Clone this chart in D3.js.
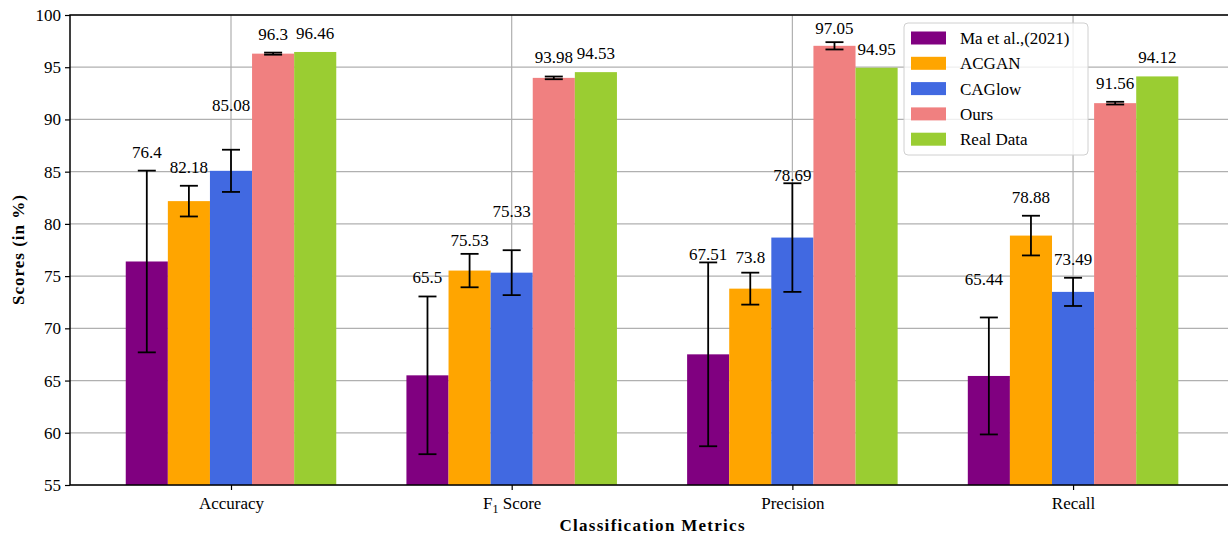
<!DOCTYPE html>
<html>
<head>
<meta charset="utf-8">
<script src="https://cdn.jsdelivr.net/npm/d3@7"></script>
<style>
  body { margin: 0; background: #fff; }
  text { font-family: "Liberation Serif", "DejaVu Serif", serif; fill: #000; }
</style>
</head>
<body>
<div id="chart"></div>
<script>
const metrics = ["Accuracy", "F1 Score", "Precision", "Recall"];
const methods = ["Ma et al.,(2021)", "ACGAN", "CAGlow", "Ours", "Real Data"];
const colors = ["#800080", "#ffa500", "#4169e1", "#f08080", "#9acd32"];

// rows follow methods, columns follow metrics
const maScores = [76.4, 65.5, 67.51, 65.44];
const acganScores = [82.18, 75.53, 73.8, 78.88];
const caglowScores = [85.08, 75.33, 78.69, 73.49];
const oursScores = [96.3, 93.98, 97.05, 91.56];
const realScores = [96.46, 94.53, 94.95, 94.12];

const maErr = [8.7, 7.55, 8.8, 5.6];
const acganErr = [1.47, 1.6, 1.53, 1.9];
const caglowErr = [2.02, 2.15, 5.2, 1.35];
const oursErr = [0.1, 0.13, 0.35, 0.13];
const realErr = [0, 0, 0, 0];

const yTicks = [55, 60, 65, 70, 75, 80, 85, 90, 95, 100];

const scores = [maScores, acganScores, caglowScores, oursScores, realScores];
const errs = [maErr, acganErr, caglowErr, oursErr, realErr];

// labels were shuffled to avoid overlaps in the original, replay that here (pixels)
const LABEL_GAP = 19;
const labelNudge = {
  "0-2": [0, -26], "1-1": [0, 5], "1-2": [0, -20],
  "2-0": [0, 11], "2-1": [0, 3], "2-2": [0, 11], "2-3": [0, 5],
  "3-0": [-5, -19]
};

const WIDTH = 1228, HEIGHT = 535;
const margin = { left: 70, top: 15, bottom: 50 };
const BAR_W = 0.15;
const FONT = "17px";

const svg = d3.select("#chart").append("svg")
  .attr("width", WIDTH).attr("height", HEIGHT);

const x = d3.scaleLinear().domain([-0.5736, 3.5736]).range([margin.left, margin.left + 4.147 * 280.7]);
const y = d3.scaleLinear().domain([55, 100]).range([HEIGHT - margin.bottom, margin.top]);

const plotLeft = margin.left, plotRight = x.range()[1];
const plotTop = margin.top, plotBottom = HEIGHT - margin.bottom;

// grid
const grid = svg.append("g");
grid.selectAll(".hgrid").data(yTicks).enter().append("line")
  .attr("x1", plotLeft).attr("x2", plotRight)
  .attr("y1", d => y(d)).attr("y2", d => y(d))
  .attr("stroke", "#b0b0b0").attr("stroke-width", 1.2);
grid.selectAll(".vgrid").data(metrics).enter().append("line")
  .attr("x1", (d, i) => x(i)).attr("x2", (d, i) => x(i))
  .attr("y1", plotTop).attr("y2", plotBottom)
  .attr("stroke", "#b0b0b0").attr("stroke-width", 1.2);

// bars
const cells = [];
methods.forEach(function(m, j) {
  metrics.forEach(function(k, i) {
    cells.push({ i: i, j: j, v: scores[j][i], e: errs[j][i] });
  });
});
const cx = d => x(d.i + (d.j - 2) * BAR_W);

svg.append("g").selectAll("rect").data(cells).enter().append("rect")
  .attr("x", d => x(d.i + (d.j - 2.5) * BAR_W))
  .attr("width", d => x(d.i + (d.j - 1.5) * BAR_W) - x(d.i + (d.j - 2.5) * BAR_W))
  .attr("y", d => y(d.v))
  .attr("height", d => plotBottom - y(d.v))
  .attr("fill", d => colors[d.j]);

// error bars
const eb = svg.append("g").selectAll("g").data(cells.filter(d => d.e > 0)).enter().append("g")
  .attr("stroke", "#000").attr("stroke-width", 1.8);
eb.append("line").attr("x1", cx).attr("x2", cx)
  .attr("y1", d => y(d.v + d.e)).attr("y2", d => y(d.v - d.e));
eb.append("line").attr("x1", d => cx(d) - 9).attr("x2", d => cx(d) + 9)
  .attr("y1", d => y(d.v + d.e)).attr("y2", d => y(d.v + d.e));
eb.append("line").attr("x1", d => cx(d) - 9).attr("x2", d => cx(d) + 9)
  .attr("y1", d => y(d.v - d.e)).attr("y2", d => y(d.v - d.e));

// value labels
svg.append("g").selectAll("text").data(cells).enter().append("text")
  .attr("x", d => cx(d) + (labelNudge[d.i + "-" + d.j] || [0, 0])[0])
  .attr("y", d => y(d.v + d.e) - LABEL_GAP + (labelNudge[d.i + "-" + d.j] || [0, 0])[1])
  .attr("dy", "0.35em")
  .attr("text-anchor", "middle")
  .style("font-size", FONT)
  .text(d => d.v);

// axes
const yAxis = svg.append("g").attr("transform", "translate(" + plotLeft + ",0)")
  .call(d3.axisLeft(y).tickValues(yTicks).tickSize(5).tickPadding(4));
const xAxis = svg.append("g").attr("transform", "translate(0," + plotBottom + ")")
  .call(d3.axisBottom(x).tickValues([0, 1, 2, 3]).tickSize(5).tickPadding(4).tickFormat(() => ""));
[yAxis, xAxis].forEach(function(a) {
  a.select(".domain").remove();
  a.selectAll("line").attr("stroke", "#000").attr("stroke-width", 1.2);
  a.selectAll("text").style("font-size", FONT).attr("font-family", null);
});
xAxis.selectAll(".tick").append("text")
  .attr("y", 24).attr("text-anchor", "middle").style("font-size", FONT)
  .each(function(d) {
    const t = d3.select(this);
    if (metrics[d] === "F1 Score") {
      t.append("tspan").text("F");
      t.append("tspan").text("1").attr("dy", 4).style("font-size", "12px");
      t.append("tspan").text(" Score").attr("dy", -4);
    } else {
      t.text(metrics[d]);
    }
  });

// spines
svg.append("rect")
  .attr("x", plotLeft).attr("y", plotTop)
  .attr("width", plotRight - plotLeft).attr("height", plotBottom - plotTop)
  .attr("fill", "none").attr("stroke", "#000").attr("stroke-width", 1.5);

// axis titles
svg.append("text")
  .attr("transform", "translate(24," + ((plotTop + plotBottom) / 2) + ") rotate(-90)")
  .attr("text-anchor", "middle").style("font-size", FONT).style("font-weight", "bold")
  .attr("textLength", 110).attr("lengthAdjust", "spacing")
  .text("Scores (in %)");
svg.append("text")
  .attr("x", 652).attr("y", 531)
  .attr("text-anchor", "middle").style("font-size", FONT).style("font-weight", "bold")
  .attr("textLength", 185).attr("lengthAdjust", "spacing")
  .text("Classification Metrics");

// legend
const legend = svg.append("g").attr("transform", "translate(904,23)");
legend.append("rect")
  .attr("width", 184).attr("height", 132).attr("rx", 4)
  .attr("fill", "#fff").attr("fill-opacity", 0.8)
  .attr("stroke", "#d0d0d0").attr("stroke-width", 1);
const items = legend.selectAll(".item").data(methods).enter().append("g")
  .attr("transform", (d, i) => "translate(7," + (15 + i * 25.3) + ")");
items.append("rect").attr("x", 0).attr("y", -6.5).attr("width", 35).attr("height", 13)
  .attr("fill", (d, i) => colors[i]);
items.append("text").attr("x", 49).attr("dy", "0.35em")
  .style("font-size", FONT).text(d => d);
</script>
</body>
</html>
